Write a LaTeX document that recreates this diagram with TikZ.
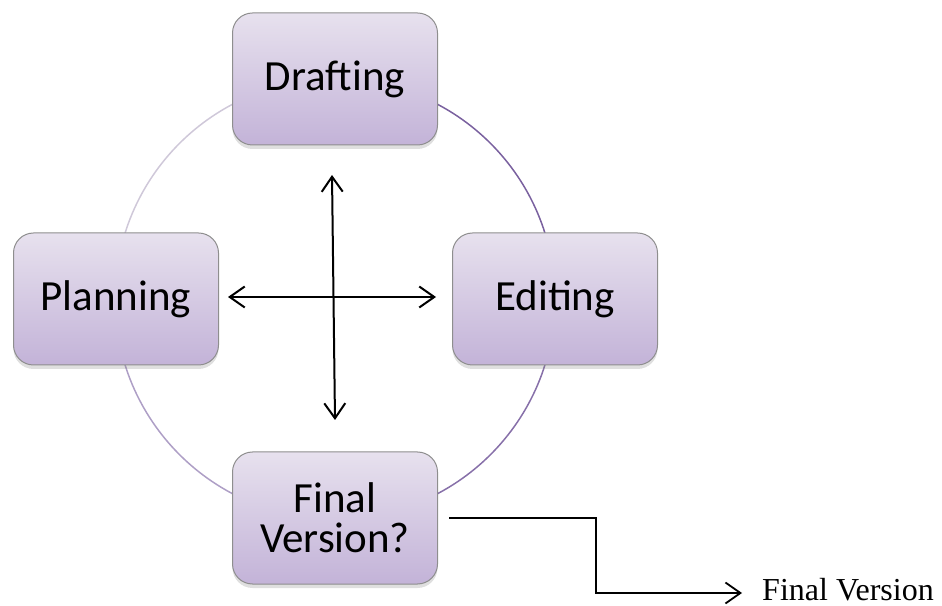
\documentclass[tikz,border=0pt]{standalone}
\usepackage{fontspec}
\setmainfont{Carlito}
\newfontfamily\serifrm{Liberation Serif}
\usetikzlibrary{arrows.meta,shadows}
\definecolor{boxtop}{HTML}{E7E1EE}
\definecolor{boxbot}{HTML}{C3B3D8}
\definecolor{boxline}{HTML}{8E8E8E}
\definecolor{ringA}{HTML}{7A619F}
\definecolor{ringB}{HTML}{8770A9}
\definecolor{ringC}{HTML}{AE9FC6}
\definecolor{ringD}{HTML}{CFC8D9}

\begin{document}
\begin{tikzpicture}[x=1pt,y=1pt,>={Straight Barb[length=15pt,width=21pt]},
 stage/.style={draw=boxline,line width=1pt,rounded corners=20pt,minimum width=205pt,
  minimum height=132pt,top color=boxtop,bottom color=boxbot,align=center,
  font=\fontsize{43}{40}\selectfont,
  drop shadow={shadow xshift=0pt,shadow yshift=-4pt,opacity=.25}}]
\useasboundingbox (0,0) rectangle (942,605);
\coordinate (c) at (335,306);
% ring behind the four stages
\foreach \a/\b/\col in {90/0/ringA,0/-90/ringB,270/180/ringC,180/90/ringD}
  \draw[line width=1.5pt,draw=\col] ([shift={(\a:220)}]c) arc[start angle=\a,end angle=\b,radius=220];
\node[stage] (draft) at (335,526) {Drafting};
\node[stage] (plan) at (116,306) {Planning};
\node[stage] (edit) at (555,306) {Editing};
\node[stage] (fin) at (335,87) {Final\\Version?};
% cross in the middle
\coordinate (up) at (332,430);
\coordinate (down) at (335,185);
\coordinate (left) at (228,308);
\coordinate (right) at (436,308);
\draw[<->,line width=2pt] (down) -- (up);
\draw[<->,line width=2pt] (left) -- (right);
\node[anchor=base west,inner sep=0pt,font=\serifrm\fontsize{32}{36}\selectfont] (fv) at (762,5) {Final Version};
\draw[->,line width=1.8pt] ([xshift=11pt]fin.east) -- ++(147,0) |- ([shift={(-20pt,7pt)}]fv.base west);
\end{tikzpicture}
\end{document}
